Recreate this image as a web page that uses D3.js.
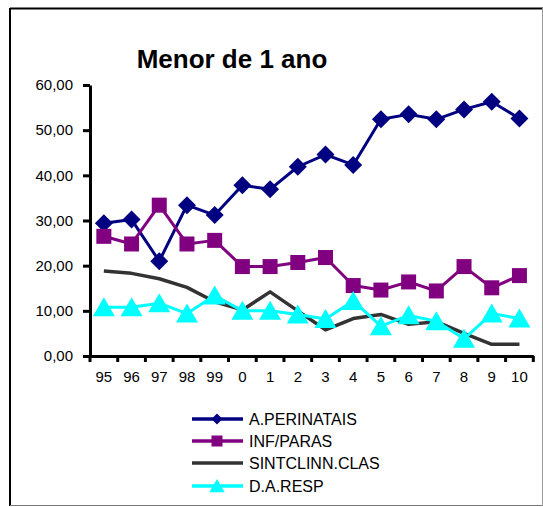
<!DOCTYPE html>
<html>
<head>
<meta charset="utf-8">
<script src="https://cdn.jsdelivr.net/npm/d3@7"></script>
<style>
  body { margin: 0; background: #fff; }
  svg { display: block; font-family: "Liberation Sans", Arial, sans-serif; }
</style>
</head>
<body>
<svg></svg>
<script>
// categorias (anos)
const years = ["95", "96", "97", "98", "99", "0", "1", "2", "3", "4", "5", "6", "7", "8", "9", "10"];

// séries
const perinatais = [29.4, 30.2, 21.0, 33.4, 31.2, 37.8, 36.9, 41.9, 44.6, 42.3, 52.4, 53.5, 52.4, 54.6, 56.3, 52.6];
const infParas   = [26.5, 24.8, 33.4, 24.8, 25.6, 19.8, 19.8, 20.7, 21.8, 15.6, 14.6, 16.4, 14.4, 19.8, 15.1, 17.8];
const sintclinn  = [18.8, 18.3, 17.1, 15.2, 12.0, 10.2, 14.2, 10.0, 5.8, 8.3, 9.2, 7.0, 7.6, 5.0, 2.6, 2.6];
const daResp     = [10.8, 10.8, 11.7, 9.4, 13.4, 10.0, 10.0, 9.2, 8.2, 12.2, 6.6, 9.0, 7.7, 3.8, 9.4, 8.3];

const yTicks = [0, 10, 20, 30, 40, 50, 60];

const seriesList = [
  {name: "A.PERINATAIS",   values: perinatais, color: "#000080", marker: "diamond",  width: 3},
  {name: "INF/PARAS",      values: infParas,   color: "#800080", marker: "square",   width: 3},
  {name: "SINTCLINN.CLAS", values: sintclinn,  color: "#333333", marker: null,       width: 3.5},
  {name: "D.A.RESP",       values: daResp,     color: "#00FFFF", marker: "triangle", width: 3}
];

const width = 543;
const height = 507;
const marginLeft = 90;
const marginTop = 85;
const plotBottom = 356;

const svg = d3.select("svg")
    .attr("width", width)
    .attr("height", height)
    .attr("viewBox", [0, 0, width, height]);

// moldura
svg.append("line").attr("x1", 10).attr("x2", 543).attr("y1", 8.5).attr("y2", 8.5)
    .attr("stroke", "#000").attr("stroke-width", 2);
svg.append("line").attr("x1", 10).attr("x2", 10).attr("y1", 8).attr("y2", 506)
    .attr("stroke", "#000").attr("stroke-width", 2);
svg.append("line").attr("x1", 10).attr("x2", 543).attr("y1", 505.5).attr("y2", 505.5)
    .attr("stroke", "#777").attr("stroke-width", 1);
svg.append("line").attr("x1", 542.5).attr("x2", 542.5).attr("y1", 8).attr("y2", 506)
    .attr("stroke", "#999").attr("stroke-width", 1);

// título
svg.append("text")
    .attr("x", 232)
    .attr("y", 68)
    .attr("text-anchor", "middle")
    .attr("font-size", 26)
    .attr("font-weight", "bold")
    .text("Menor de 1 ano");

const x = d3.scaleBand()
    .domain(years)
    .range([marginLeft, 533.3]);

const y = d3.scaleLinear()
    .domain([0, 60])
    .range([plotBottom, marginTop]);

const cx = d => x(d) + x.bandwidth() / 2;

// eixo Y
svg.append("g")
    .attr("transform", `translate(${marginLeft},0)`)
    .call(d3.axisLeft(y).tickValues(yTicks).tickSize(7).tickSizeOuter(0)
        .tickFormat(d => d3.format(".2f")(d).replace(".", ",")))
    .call(g => g.select(".domain").attr("stroke-width", 3))
    .call(g => g.selectAll(".tick line").attr("stroke-width", 3))
    .call(g => g.selectAll(".tick text").attr("font-size", 15).attr("x", -17).attr("fill", "#000")
        .attr("font-family", "'Liberation Sans', Arial, sans-serif"));

// eixo X
svg.append("g")
    .attr("transform", `translate(0,${plotBottom})`)
    .call(d3.axisBottom(x).tickSize(0).tickSizeOuter(0).tickPadding(15))
    .call(g => g.select(".domain").attr("stroke-width", 3))
    .call(g => g.selectAll(".tick text").attr("font-size", 15).attr("fill", "#000")
        .attr("font-family", "'Liberation Sans', Arial, sans-serif"));

// marcas entre categorias
svg.append("g")
    .selectAll("line")
    .data(years.map(d => x(d)).concat([x.range()[1]]))
    .join("line")
    .attr("x1", d => d).attr("x2", d => d)
    .attr("y1", plotBottom).attr("y2", plotBottom + 6)
    .attr("stroke", "#000").attr("stroke-width", 3);

function markerPath(type, s) {
  if (type === "diamond") return `M0,${-s}L${s},0L0,${s}L${-s},0Z`;
  if (type === "square") return `M${-s},${-s}H${s}V${s}H${-s}Z`;
  if (type === "triangle") return `M0,${-s}L${s * 1.1},${s * 0.9}L${-s * 1.1},${s * 0.9}Z`;
  return "";
}
const markerSize = {diamond: 9, square: 7.5, triangle: 10};

const line = d3.line()
    .x((d, i) => cx(years[i]))
    .y(d => y(d));

const plot = svg.append("g");
seriesList.forEach(s => {
  const g = plot.append("g");
  g.append("path")
      .attr("d", line(s.values))
      .attr("fill", "none")
      .attr("stroke", s.color)
      .attr("stroke-width", s.width)
      .attr("stroke-linejoin", "round");
  if (s.marker) {
    g.selectAll("path.m")
      .data(s.values)
      .join("path")
        .attr("class", "m")
        .attr("transform", (d, i) => `translate(${cx(years[i])},${y(d)})`)
        .attr("d", markerPath(s.marker, markerSize[s.marker]))
        .attr("fill", s.color);
  }
});

// legenda
const legendY = [419, 441, 463, 486];
const legend = svg.append("g");
seriesList.forEach((s, i) => {
  const ly = legendY[i];
  legend.append("line")
      .attr("x1", 192).attr("x2", 243)
      .attr("y1", ly).attr("y2", ly)
      .attr("stroke", s.color).attr("stroke-width", 3.5);
  if (s.marker) {
    legend.append("path")
        .attr("transform", `translate(217,${ly})`)
        .attr("d", markerPath(s.marker, s.marker === "triangle" ? 7 : 5.5))
        .attr("fill", s.color);
  }
  legend.append("text")
      .attr("x", 249)
      .attr("y", ly + 6)
      .attr("font-size", 16)
      .text(s.name);
});
</script>
</body>
</html>
